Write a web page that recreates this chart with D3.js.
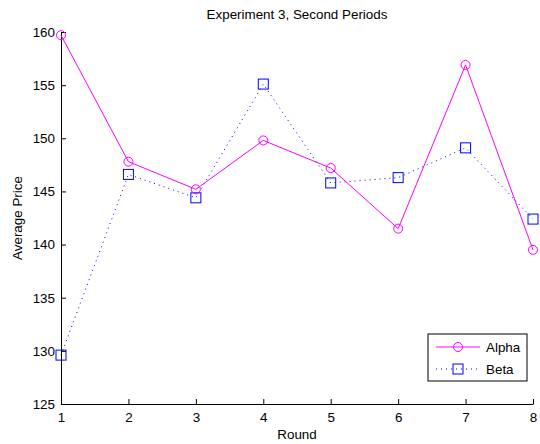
<!DOCTYPE html>
<html>
<head>
<meta charset="utf-8">
<script src="https://cdn.jsdelivr.net/npm/d3@7"></script>
<style>
  body { margin: 0; background: #fff; }
  text { font-family: "Liberation Sans", Arial, sans-serif; fill: #000; }
</style>
</head>
<body>
<div id="chart"></div>
<script>
const rounds = [1, 2, 3, 4, 5, 6, 7, 8];
const alpha = [159.7, 147.8, 145.2, 149.8, 147.2, 141.5, 156.9, 139.5];
const beta = [129.6, 146.6, 144.4, 155.1, 145.8, 146.3, 149.1, 142.4];
const yTicks = [125, 130, 135, 140, 145, 150, 155, 160];

const W = 540, H = 444;
const margin = { top: 32, right: 7, bottom: 40, left: 61 };
const fs = 13.4;

const svg = d3.select("#chart").append("svg")
    .attr("width", W)
    .attr("height", H);

const x = d3.scaleLinear().domain([1, 8]).range([margin.left, W - margin.right]);
const y = d3.scaleLinear().domain([125, 160]).range([H - margin.bottom, margin.top]);

// axes (ticks point inward, matlab style)
svg.append("g")
    .attr("transform", `translate(0,${y(125)})`)
    .call(d3.axisBottom(x).tickValues(rounds).tickFormat(d3.format("d")).tickSizeInner(-5).tickSizeOuter(0).tickPadding(8))
    .call(g => g.selectAll("text").attr("font-size", fs));

svg.append("g")
    .attr("transform", `translate(${x(1)},0)`)
    .call(d3.axisLeft(y).tickValues(yTicks).tickSizeInner(-5).tickSizeOuter(0).tickPadding(6))
    .call(g => g.selectAll("text").attr("font-size", fs));

svg.selectAll(".domain, .tick line").attr("stroke", "#000");

// lines
const line = d3.line().x((d, i) => x(rounds[i])).y(d => y(d));

svg.append("path")
    .datum(beta)
    .attr("fill", "none")
    .attr("stroke", "#0000ff")
    .attr("stroke-width", 1)
    .attr("stroke-dasharray", "1,4")
    .attr("d", line);

svg.append("path")
    .datum(alpha)
    .attr("fill", "none")
    .attr("stroke", "#ff00ff")
    .attr("stroke-width", 1)
    .attr("d", line);

// markers
svg.selectAll(".sq")
    .data(beta)
    .enter().append("rect")
    .attr("x", (d, i) => x(rounds[i]) - 5)
    .attr("y", d => y(d) - 5)
    .attr("width", 10)
    .attr("height", 10)
    .attr("fill", "none")
    .attr("stroke", "#0000ff");

svg.selectAll(".circ")
    .data(alpha)
    .enter().append("circle")
    .attr("cx", (d, i) => x(rounds[i]))
    .attr("cy", d => y(d))
    .attr("r", 4.5)
    .attr("fill", "none")
    .attr("stroke", "#ff00ff");

// title and labels
svg.append("text")
    .attr("x", (x(1) + x(8)) / 2)
    .attr("y", 19)
    .attr("text-anchor", "middle")
    .attr("font-size", fs)
    .text("Experiment 3, Second Periods");

svg.append("text")
    .attr("x", (x(1) + x(8)) / 2)
    .attr("y", 439)
    .attr("text-anchor", "middle")
    .attr("font-size", fs)
    .text("Round");

svg.append("text")
    .attr("transform", `translate(22,${(y(125) + y(160)) / 2}) rotate(-90)`)
    .attr("text-anchor", "middle")
    .attr("font-size", fs)
    .text("Average Price");

// legend
const leg = svg.append("g").attr("transform", "translate(428,334)");
leg.append("rect")
    .attr("width", 99).attr("height", 47)
    .attr("fill", "#fff").attr("stroke", "#000");

const series = [
    { name: "Alpha", color: "#ff00ff", dash: null, marker: "circle" },
    { name: "Beta", color: "#0000ff", dash: "1,4", marker: "square" }
];
series.forEach((s, i) => {
    const cy = 13 + i * 22;
    leg.append("line")
        .attr("x1", 8).attr("x2", 52).attr("y1", cy).attr("y2", cy)
        .attr("stroke", s.color).attr("stroke-dasharray", s.dash);
    if (s.marker === "circle") {
        leg.append("circle").attr("cx", 30).attr("cy", cy).attr("r", 4.5)
            .attr("fill", "none").attr("stroke", s.color);
    } else {
        leg.append("rect").attr("x", 25).attr("y", cy - 5).attr("width", 10).attr("height", 10)
            .attr("fill", "none").attr("stroke", s.color);
    }
    leg.append("text")
        .attr("x", 58).attr("y", cy + 5)
        .attr("font-size", fs)
        .text(s.name);
});
</script>
</body>
</html>
